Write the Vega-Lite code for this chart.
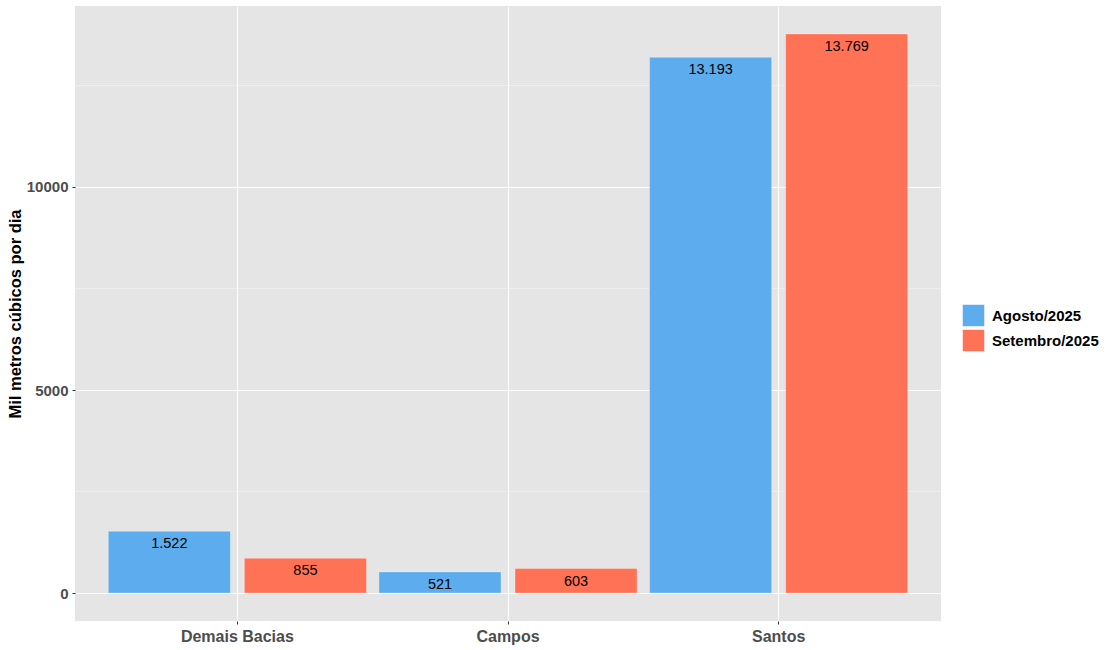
{
  "$schema": "https://vega.github.io/schema/vega-lite/v6.json",
  "width": 866,
  "height": 615,
  "autosize": {"type": "none"},
  "padding": {"left": 75, "top": 6, "right": 174, "bottom": 29},
  "background": "white",
  "config": {
    "locale": {"number": {"decimal": ",", "thousands": ".", "grouping": [3], "currency": ["R$", ""]}},
    "view": {"fill": "#E5E5E5", "stroke": null},
    "font": "Liberation Sans"
  },
  "datasets": {
    "producao": [
      {"bacia": "Demais Bacias", "mes": "Agosto/2025", "valor": 1522},
      {"bacia": "Demais Bacias", "mes": "Setembro/2025", "valor": 855},
      {"bacia": "Campos", "mes": "Agosto/2025", "valor": 521},
      {"bacia": "Campos", "mes": "Setembro/2025", "valor": 603},
      {"bacia": "Santos", "mes": "Agosto/2025", "valor": 13193},
      {"bacia": "Santos", "mes": "Setembro/2025", "valor": 13769}
    ],
    "minor": [{"v": 2500}, {"v": 7500}, {"v": 12500}]
  },
  "layer": [
    {
      "data": {"name": "minor"},
      "mark": {"type": "rule", "color": "#F2F2F2", "strokeWidth": 0.7},
      "encoding": {
        "y": {"field": "v", "type": "quantitative", "scale": {"domain": [-688, 14457], "nice": false, "zero": false}}
      }
    },
    {
      "data": {"name": "producao"},
      "mark": {"type": "bar", "stroke": "white", "strokeWidth": 0.6, "strokeOpacity": 0.5},
      "encoding": {
        "x": {
          "field": "bacia", "type": "nominal", "sort": ["Demais Bacias", "Campos", "Santos"],
          "scale": {"paddingInner": 0, "paddingOuter": 0.1},
          "axis": {
            "title": null, "labelAngle": 0, "domain": false, "grid": true, "gridColor": "white", "gridWidth": 1.1,
            "bandPosition": 0.5, "tickColor": "#333333", "tickSize": 3, "labelPadding": 4,
            "labelColor": "#4D4D4D", "labelFontWeight": "bold", "labelFontSize": 16
          }
        },
        "xOffset": {
          "field": "mes", "type": "nominal",
          "scale": {"paddingInner": 0.103, "paddingOuter": 0.046}
        },
        "y": {
          "field": "valor", "type": "quantitative",
          "scale": {"domain": [-688, 14457], "nice": false, "zero": false},
          "axis": {
            "title": "Mil metros cúbicos por dia", "values": [0, 5000, 10000], "format": "d",
            "domain": false, "grid": true, "gridColor": "white", "gridWidth": 1.1,
            "tickColor": "#333333", "tickSize": 3, "labelPadding": 4,
            "labelColor": "#4D4D4D", "labelFontWeight": "bold", "labelFontSize": 15,
            "titleFontSize": 16.5, "titleFontWeight": "bold", "titleColor": "black", "titlePadding": 3
          }
        },
        "color": {
          "field": "mes", "type": "nominal",
          "scale": {"domain": ["Agosto/2025", "Setembro/2025"], "range": ["#5CACEE", "#FF7256"]},
          "legend": {
            "title": null, "orient": "none", "legendX": 887, "legendY": 298,
            "symbolType": "square", "symbolSize": 484, "symbolStrokeColor": "white", "symbolStrokeWidth": 0.5,
            "symbolOpacity": 1, "labelFontSize": 15, "labelFontWeight": "bold", "labelColor": "black",
            "rowPadding": 0, "labelOffset": 7
          }
        }
      }
    },
    {
      "data": {"name": "producao"},
      "mark": {"type": "text", "baseline": "top", "dy": 6, "fontSize": 14.5, "color": "black"},
      "encoding": {
        "x": {"field": "bacia", "type": "nominal", "sort": ["Demais Bacias", "Campos", "Santos"]},
        "xOffset": {"field": "mes", "type": "nominal"},
        "y": {"field": "valor", "type": "quantitative"},
        "text": {"field": "valor", "type": "quantitative", "format": ",d"}
      }
    }
  ]
}
